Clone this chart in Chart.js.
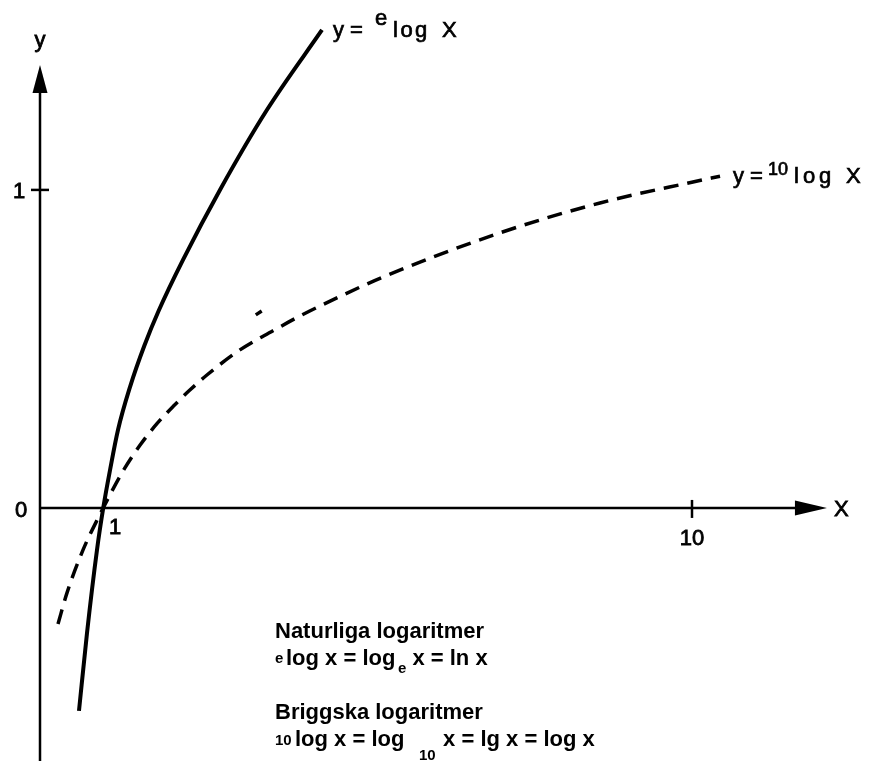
<!DOCTYPE html>
<html>
<head>
<meta charset="utf-8">
<script src="https://cdn.jsdelivr.net/npm/chart.js@4.4.1/dist/chart.umd.min.js"></script>
<style>
  html, body { margin: 0; padding: 0; background: #fff; }
  #wrap { width: 871px; height: 761px; position: relative; }
</style>
</head>
<body>
<div id="wrap"><canvas id="chart"></canvas></div>
<script>
// y = e-log x (heldragen)
const lnX = [0.598, 0.721, 0.874, 0.97, 1.074, 1.196, 1.38, 1.6, 1.82, 2.193, 2.76, 3.482, 4.325];
const lnY = [-0.638, -0.393, -0.132, 0, 0.119, 0.245, 0.38, 0.51, 0.62, 0.78, 1.0, 1.252, 1.503];

// y = 10-log x (streckad)
const lgX = [0.276, 0.414, 0.66, 0.92, 1.07, 1.30, 1.53, 1.79, 2.06, 2.29, 2.56, 3.067, 3.574, 4.0, 4.601, 5.261, 7.055, 8.589, 10.015, 10.43];
const lgY = [-0.365, -0.267, -0.132, -0.02, 0.04, 0.125, 0.196, 0.264, 0.323, 0.369, 0.418, 0.497, 0.557, 0.605, 0.665, 0.726, 0.865, 0.959, 1.025, 1.043];

// litet lösryckt streck ovanför den streckade kurvan
const strayX = [3.31, 3.40];
const strayY = [0.607, 0.619];

// axelmarkeringar
const xTicks = [1, 10];
const xTickLabels = ['1', '10'];
const yTicks = [1];
const yTickLabels = ['1'];

const toPoints = (xs, ys) => xs.map((x, i) => ({ x: x, y: ys[i] }));

const FONT = '"Liberation Sans", Arial, sans-serif';

// ritar text i bitar (upphöjt/nedsänkt), lite fetare med en tunn kontur
function drawParts(ctx, x, y, parts, weight) {
    parts.forEach(p => {
        ctx.font = p.font;
        ctx.letterSpacing = p.ls || '0px';
        if (p.x !== undefined) x = p.x;
        ctx.fillText(p.t, x, y + (p.dy || 0));
        if (weight) {
            ctx.lineWidth = weight;
            ctx.strokeText(p.t, x, y + (p.dy || 0));
        }
        x += ctx.measureText(p.t).width;
    });
    ctx.letterSpacing = '0px';
}

// Axlar med pilar, skalstreck och texter
const axesPlugin = {
    id: 'axesPlugin',
    beforeDatasetsDraw(chart) {
        const ctx = chart.ctx;
        const xs = chart.scales.x;
        const ys = chart.scales.y;
        const x0 = xs.getPixelForValue(0);
        const y0 = ys.getPixelForValue(0);
        const yTip = ys.getPixelForValue(1.393);
        const xTip = xs.getPixelForValue(12.07);

        ctx.save();
        ctx.strokeStyle = '#000';
        ctx.fillStyle = '#000';
        ctx.lineWidth = 2.5;

        // y-axel
        ctx.beginPath();
        ctx.moveTo(x0, chart.height);
        ctx.lineTo(x0, yTip + 20);
        ctx.stroke();
        ctx.beginPath();
        ctx.moveTo(x0, yTip);
        ctx.lineTo(x0 - 7.5, yTip + 28);
        ctx.lineTo(x0 + 7.5, yTip + 28);
        ctx.closePath();
        ctx.fill();

        // x-axel
        ctx.beginPath();
        ctx.moveTo(x0, y0);
        ctx.lineTo(xTip - 20, y0);
        ctx.stroke();
        ctx.beginPath();
        ctx.moveTo(xTip, y0);
        ctx.lineTo(xTip - 32, y0 - 7.5);
        ctx.lineTo(xTip - 32, y0 + 7.5);
        ctx.closePath();
        ctx.fill();

        // skalstreck
        yTicks.forEach(v => {
            const py = ys.getPixelForValue(v);
            ctx.beginPath();
            ctx.moveTo(x0 - 9, py);
            ctx.lineTo(x0 + 9, py);
            ctx.stroke();
        });
        xTicks.forEach(v => {
            if (v === 1) return;
            const px = xs.getPixelForValue(v);
            ctx.beginPath();
            ctx.moveTo(px, y0 - 8);
            ctx.lineTo(px, y0 + 10);
            ctx.stroke();
        });
        ctx.restore();
    },
    afterDatasetsDraw(chart) {
        const ctx = chart.ctx;
        const xs = chart.scales.x;
        const ys = chart.scales.y;
        const x0 = xs.getPixelForValue(0);
        const y0 = ys.getPixelForValue(0);

        ctx.save();
        ctx.fillStyle = '#000';
        ctx.strokeStyle = '#000';
        ctx.textBaseline = 'alphabetic';
        ctx.lineWidth = 0.8;

        // axeltexter
        const f22 = '22px ' + FONT;
        ctx.font = f22;
        ctx.textAlign = 'center';
        const label = (t, x, y) => { ctx.fillText(t, x, y); ctx.strokeText(t, x, y); };
        label('y', x0, 47);
        label('0', 21, y0 + 9);
        yTicks.forEach((v, i) => label(yTickLabels[i], 19, ys.getPixelForValue(v) + 8));
        label(xTickLabels[0], xs.getPixelForValue(xTicks[0]) + 10, y0 + 26);
        label(xTickLabels[1], xs.getPixelForValue(xTicks[1]), y0 + 37);
        ctx.textAlign = 'left';
        label('X', 834, y0 + 8);

        // kurvetiketter
        drawParts(ctx, 333, 37, [
            { t: 'y =', font: f22 },
            { t: 'e', font: f22, dy: -12, x: 375 },
            { t: 'log', font: f22, x: 393, ls: '2.5px' },
            { t: 'X', font: f22, x: 442 }
        ], 0.7);
        drawParts(ctx, 733, 183, [
            { t: 'y =', font: f22 },
            { t: '10', font: '18px ' + FONT, dy: -8, x: 768 },
            { t: 'log', font: f22, x: 794, ls: '4px' },
            { t: 'X', font: f22, x: 846 }
        ], 0.7);

        // förklaring
        const b22 = 'bold 22px ' + FONT;
        const b15 = 'bold 15px ' + FONT;
        const tx = 275;
        drawParts(ctx, tx, 638, [{ t: 'Naturliga logaritmer', font: b22 }]);
        drawParts(ctx, tx, 665, [
            { t: 'e', font: b15, dy: -2 },
            { t: 'log x = log', font: b22, x: 286 },
            { t: 'e', font: b15, dy: 8, x: 398 },
            { t: ' x = ln x', font: b22 }
        ]);
        drawParts(ctx, tx, 719, [{ t: 'Briggska logaritmer', font: b22 }]);
        drawParts(ctx, tx, 746, [
            { t: '10', font: b15, dy: -1 },
            { t: 'log x = log', font: b22, x: 295 },
            { t: '10', font: b15, dy: 14, x: 419 },
            { t: ' x = lg x = log x', font: b22, x: 437 }
        ]);
        ctx.restore();
    }
};

new Chart(document.getElementById('chart'), {
    type: 'scatter',
    data: {
        datasets: [
            {
                label: 'ln',
                data: toPoints(lnX, lnY),
                showLine: true,
                borderColor: '#000',
                borderWidth: 4,
                pointRadius: 0,
                cubicInterpolationMode: 'monotone',
                clip: false
            },
            {
                label: 'lg',
                data: toPoints(lgX, lgY),
                showLine: true,
                borderColor: '#000',
                borderWidth: 3.5,
                borderDash: [15, 9],
                pointRadius: 0,
                cubicInterpolationMode: 'monotone',
                clip: false
            },
            {
                label: 'stray',
                data: toPoints(strayX, strayY),
                showLine: true,
                borderColor: '#000',
                borderWidth: 3.5,
                pointRadius: 0,
                clip: false
            }
        ]
    },
    options: {
        responsive: true,
        maintainAspectRatio: false,
        animation: false,
        events: [],
        layout: { padding: { left: 40, right: 16, top: 15, bottom: 5 } },
        plugins: {
            legend: { display: false },
            tooltip: { enabled: false }
        },
        scales: {
            x: { type: 'linear', display: false, min: 0, max: 12.5 },
            y: { type: 'linear', display: false, min: -0.78, max: 1.55 }
        }
    },
    plugins: [axesPlugin]
});
</script>
</body>
</html>
